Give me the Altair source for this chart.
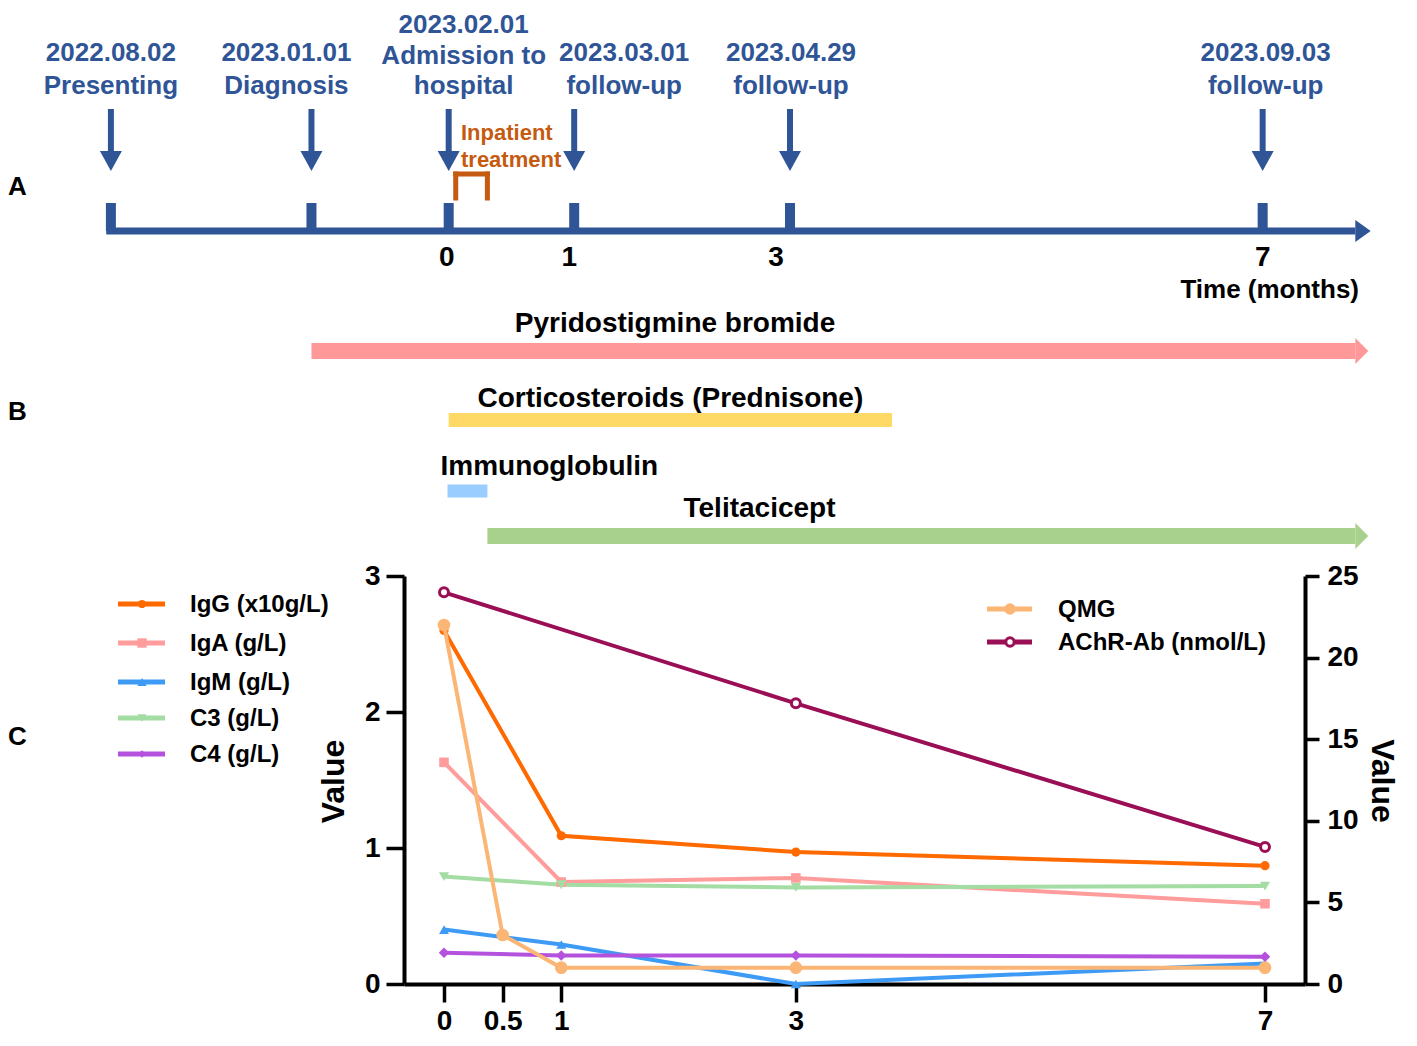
import altair as alt
import pandas as pd

# ---------------- data ----------------
# Panel A: timeline events (diagram position in months from admission)
event_dates = ["2022.08.02", "2023.01.01", "2023.02.01", "2023.03.01", "2023.04.29", "2023.09.03"]
event_names = [["Presenting"], ["Diagnosis"], ["Admission to", "hospital"],
               ["follow-up"], ["follow-up"], ["follow-up"]]
event_pos = [-2.84, -1.13, 0.04, 1.11, 2.95, 6.98]
event_month_label = ["", "", "0", "1", "3", "7"]
timeline_span = [-2.88, 7.77]
inpatient_span = [0.10, 0.37]

# Panel B: treatments
treat_names = ["Pyridostigmine bromide", "Corticosteroids (Prednisone)", "Immunoglobulin", "Telitacicept"]
treat_start = [-1.13, 0.04, 0.03, 0.37]
treat_end = [7.77, 3.82, 0.37, 7.77]
treat_ongoing = [True, False, False, True]
treat_label_pos = [1.97, 1.93, -0.03, 2.69]

# Panel C: laboratory values
months = [0, 1, 3, 7]
igg = [2.60, 1.09, 0.97, 0.87]
iga = [1.63, 0.75, 0.78, 0.59]
igm = [0.40, 0.29, 0.00, 0.15]
c3 = [0.79, 0.73, 0.71, 0.72]
c4 = [0.23, 0.21, 0.21, 0.20]
qmg_months = [0, 0.5, 1, 3, 7]
qmg = [22, 3, 1, 1, 1]
achr_months = [0, 3, 7]
achr = [24.0, 17.2, 8.4]

left_names = ["IgG (x10g/L)", "IgA (g/L)", "IgM (g/L)", "C3 (g/L)", "C4 (g/L)"]
right_names = ["QMG", "AChR-Ab (nmol/L)"]
x_ticks = [0, 0.5, 1, 3, 7]

# ---------------- styles ----------------
FONT = "Liberation Sans"
BLUE = "#2F5597"
INPATIENT = "#C55A11"
treat_colors = ["#FF9999", "#FFD966", "#99CCFF", "#A9D18E"]
treat_y = [343, 412, 483, 528]
treat_w = [16, 14, 13, 16]
treat_label_y = [316, 391, 459, 501]
treat_label_align = ["center", "center", "left", "center"]
label_dx = [0, -25, 15, 50, 1, 3]
num_dx = [0, 0, -2, -5, -14, 0]

left_colors = ["#FF6A00", "#FF9C9C", "#3D9BF5", "#A3DDA3", "#B452DE"]
left_shapes = ["circle", "square", "triangle-up", "triangle-down", "diamond"]
left_sizes = [85, 110, 110, 100, 70]
right_colors = ["#FBB676", "#9A0E55"]

XMIN, XMAX = -0.341, 7.341
PW = 901
PH = 408

xs = alt.Scale(domain=[XMIN, XMAX], nice=False, zero=False)


def xq(field):
    return alt.X(f"{field}:Q", scale=xs, axis=None)


def one(**kw):
    return pd.DataFrame({k: [v] for k, v in kw.items()})


def text_layer(df, text, x_enc, y, size, color="black", align="center",
               baseline="middle", dx=0, lh=None, angle=None):
    kw = dict(text=text, font=FONT, fontSize=size, fontWeight="bold", color=color,
              align=align, baseline=baseline, dx=dx)
    if lh is not None:
        kw["lineHeight"] = lh
    if angle is not None:
        kw["angle"] = angle
    return alt.Chart(df).mark_text(**kw).encode(x=x_enc, y=alt.value(y))


# ---------------- top (A + B) ----------------
top_layers = []
ev = pd.DataFrame({"pos": event_pos})

top_layers.append(
    alt.Chart(one(start=timeline_span[0], end=timeline_span[1]))
    .mark_rule(color=BLUE, strokeWidth=7, strokeCap="butt")
    .encode(x=xq("start"), x2=alt.X2("end"), y=alt.value(223))
)
top_layers.append(
    alt.Chart(one(pos=timeline_span[1]))
    .mark_point(shape="M0,-1L1.4,0L0,1Z", size=484, filled=True, color=BLUE, opacity=1)
    .encode(x=xq("pos"), y=alt.value(223))
)
top_layers.append(
    alt.Chart(ev).mark_rule(color=BLUE, strokeWidth=10, strokeCap="butt")
    .encode(x=xq("pos"), y=alt.value(195), y2=alt.value(223))
)
top_layers.append(
    alt.Chart(ev).mark_rule(color=BLUE, strokeWidth=6, strokeCap="butt")
    .encode(x=xq("pos"), y=alt.value(101), y2=alt.value(146))
)
top_layers.append(
    alt.Chart(ev).mark_point(shape="M-1,-0.9L1,-0.9L0,0.9Z", size=484, filled=True,
                             color=BLUE, opacity=1)
    .encode(x=xq("pos"), y=alt.value(153))
)

for i in range(len(event_pos)):
    lines = [event_dates[i]] + event_names[i]
    n = len(lines)
    ytop = 64.5 - (n - 1) * 32.5
    lh = 32.5
    if n > 2:
        ytop = 4
        lh = 30.5
    top_layers.append(text_layer(one(pos=event_pos[i]), lines, xq("pos"), ytop, 26,
                                 color=BLUE, baseline="top", dx=label_dx[i], lh=lh))
    if event_month_label[i]:
        top_layers.append(text_layer(one(pos=event_pos[i]), event_month_label[i], xq("pos"),
                                     250, 28, dx=num_dx[i]))

top_layers.append(text_layer(one(pos=7.04), "Time (months)", xq("pos"), 282, 26))

# inpatient treatment
top_layers.append(text_layer(one(pos=0.145), ["Inpatient", "treatment"], xq("pos"), 115, 22,
                             color=INPATIENT, align="left", baseline="top", lh=27))
top_layers.append(
    alt.Chart(pd.DataFrame({"pos": inpatient_span}))
    .mark_rule(color=INPATIENT, strokeWidth=5, strokeCap="square")
    .encode(x=xq("pos"), y=alt.value(166), y2=alt.value(190))
)
top_layers.append(
    alt.Chart(one(start=inpatient_span[0], end=inpatient_span[1]))
    .mark_rule(color=INPATIENT, strokeWidth=5, strokeCap="square")
    .encode(x=xq("start"), x2=alt.X2("end"), y=alt.value(166))
)

# treatments
for i in range(len(treat_names)):
    top_layers.append(
        alt.Chart(one(start=treat_start[i], end=treat_end[i]))
        .mark_rule(color=treat_colors[i], strokeWidth=treat_w[i], strokeCap="butt")
        .encode(x=xq("start"), x2=alt.X2("end"), y=alt.value(treat_y[i]))
    )
    if treat_ongoing[i]:
        top_layers.append(
            alt.Chart(one(pos=treat_end[i]))
            .mark_point(shape="M0,-1L1,0L0,1Z", size=676, filled=True,
                        color=treat_colors[i], opacity=1)
            .encode(x=xq("pos"), y=alt.value(treat_y[i]))
        )
    top_layers.append(text_layer(one(pos=treat_label_pos[i]), treat_names[i], xq("pos"),
                                 treat_label_y[i], 28, align=treat_label_align[i]))

top_layers.append(text_layer(one(k=0), "A", alt.value(-396), 179, 26, align="left"))
top_layers.append(text_layer(one(k=0), "B", alt.value(-396), 404, 26, align="left"))

top = alt.layer(*top_layers).properties(width=PW, height=548)

# ---------------- bottom (C) ----------------
rows = []
for name, vals in zip(left_names, [igg, iga, igm, c3, c4]):
    for m, v in zip(months, vals):
        rows.append({"series": name, "month": m, "value": v})
left_df = pd.DataFrame(rows)

rows = []
for m, v in zip(qmg_months, qmg):
    rows.append({"series": right_names[0], "month": m, "value": v})
for m, v in zip(achr_months, achr):
    rows.append({"series": right_names[1], "month": m, "value": v})
right_df = pd.DataFrame(rows)
qmg_df = right_df[right_df.series == right_names[0]]
achr_df = right_df[right_df.series == right_names[1]]

cs = alt.Scale(domain=left_names + right_names, range=left_colors + right_colors)
color = alt.Color("series:N", scale=cs, legend=None)

ax_x = alt.Axis(values=x_ticks, format="~g", title=None, grid=False,
                labelFont=FONT, labelFontSize=28, labelFontWeight="bold", labelColor="black",
                tickSize=18, tickWidth=3.5, tickColor="black", domainColor="black",
                domainWidth=4, labelPadding=5, labelFlush=False, labelOverlap=False)
ax_yl = alt.Axis(values=[0, 1, 2, 3], title="Value", grid=False, orient="left",
                 labelFont=FONT, labelFontSize=28, labelFontWeight="bold", labelColor="black",
                 tickSize=18, tickWidth=3.5, tickColor="black", domainColor="black",
                 domainWidth=4, labelPadding=6, labelFlush=False,
                 titleFont=FONT, titleFontSize=32, titleFontWeight="bold", titleColor="black",
                 titleAngle=270, titleX=-71, titleY=205, titleAlign="center",
                 titleBaseline="middle")
ax_yr = alt.Axis(values=[0, 5, 10, 15, 20, 25], title=None, grid=False, orient="right",
                 labelFont=FONT, labelFontSize=28, labelFontWeight="bold", labelColor="black",
                 tickSize=14, tickWidth=3.5, tickColor="black", domainColor="black",
                 domainWidth=4, labelPadding=8, labelFlush=False)

xb = alt.X("month:Q", scale=xs, axis=ax_x)
yl = alt.Y("value:Q", scale=alt.Scale(domain=[0, 3], nice=False), axis=ax_yl)
yr = alt.Y("value:Q", scale=alt.Scale(domain=[0, 25], nice=False), axis=ax_yr)

left_lines = alt.Chart(left_df).mark_line(strokeWidth=4).encode(x=xb, y=yl, color=color)
left_points = alt.Chart(left_df).mark_point(filled=True, opacity=1).encode(
    x=xb, y=yl, color=color,
    shape=alt.Shape("series:N", scale=alt.Scale(domain=left_names, range=left_shapes), legend=None),
    size=alt.Size("series:N", scale=alt.Scale(domain=left_names, range=left_sizes), legend=None),
)

right_lines = alt.Chart(right_df).mark_line(strokeWidth=4).encode(x=xb, y=yr, color=color)
qmg_points = alt.Chart(qmg_df).mark_point(filled=True, shape="circle", size=160,
                                          color=right_colors[0], opacity=1).encode(x=xb, y=yr)
achr_points = alt.Chart(achr_df).mark_point(shape="circle", size=80, filled=True, fill="white",
                                            stroke=right_colors[1], strokeWidth=3,
                                            opacity=1).encode(x=xb, y=yr)

# legends
legend_layers = []
left_rows = [28, 67, 106, 142, 178]
for i, name in enumerate(left_names):
    yv = left_rows[i]
    legend_layers.append(alt.Chart(one(k=0)).mark_rule(color=left_colors[i], strokeWidth=5)
                         .encode(x=alt.value(-286), x2=alt.value(-239), y=alt.value(yv)))
    legend_layers.append(alt.Chart(one(k=0)).mark_point(shape=left_shapes[i], filled=True,
                                                        size=left_sizes[i] * 0.8,
                                                        color=left_colors[i], opacity=1)
                         .encode(x=alt.value(-262), y=alt.value(yv)))
    legend_layers.append(text_layer(one(k=0), name, alt.value(-214), yv + 1, 24, align="left"))

right_rows = [33, 66]
for i, name in enumerate(right_names):
    yv = right_rows[i]
    legend_layers.append(alt.Chart(one(k=0)).mark_rule(color=right_colors[i], strokeWidth=5)
                         .encode(x=alt.value(583), x2=alt.value(628), y=alt.value(yv)))
    if i == 0:
        legend_layers.append(alt.Chart(one(k=0)).mark_point(shape="circle", filled=True, size=130,
                                                            color=right_colors[0], opacity=1)
                             .encode(x=alt.value(606), y=alt.value(yv)))
    else:
        legend_layers.append(alt.Chart(one(k=0)).mark_point(shape="circle", filled=True, size=70,
                                                            fill="white", stroke=right_colors[1],
                                                            strokeWidth=3, opacity=1)
                             .encode(x=alt.value(606), y=alt.value(yv)))
    legend_layers.append(text_layer(one(k=0), name, alt.value(654), yv + 1, 24, align="left"))

legend_layers.append(text_layer(one(k=0), "C", alt.value(-396), 161, 26, align="left"))
# right axis title
legend_layers.append(text_layer(one(k=0), "Value", alt.value(978), 205, 32, angle=90))

left_group = alt.layer(left_lines, left_points, *legend_layers)
right_group = alt.layer(right_lines, qmg_points, achr_points)
bottom = alt.layer(left_group, right_group).resolve_scale(y="independent").properties(
    width=PW, height=PH)

chart = (
    alt.vconcat(top, bottom, spacing=20, bounds="flush")
    .properties(padding=0)
    .configure_view(strokeWidth=0, stroke="transparent")
)

chart.save("out.html", embed_options={"renderer": "svg", "actions": False})
